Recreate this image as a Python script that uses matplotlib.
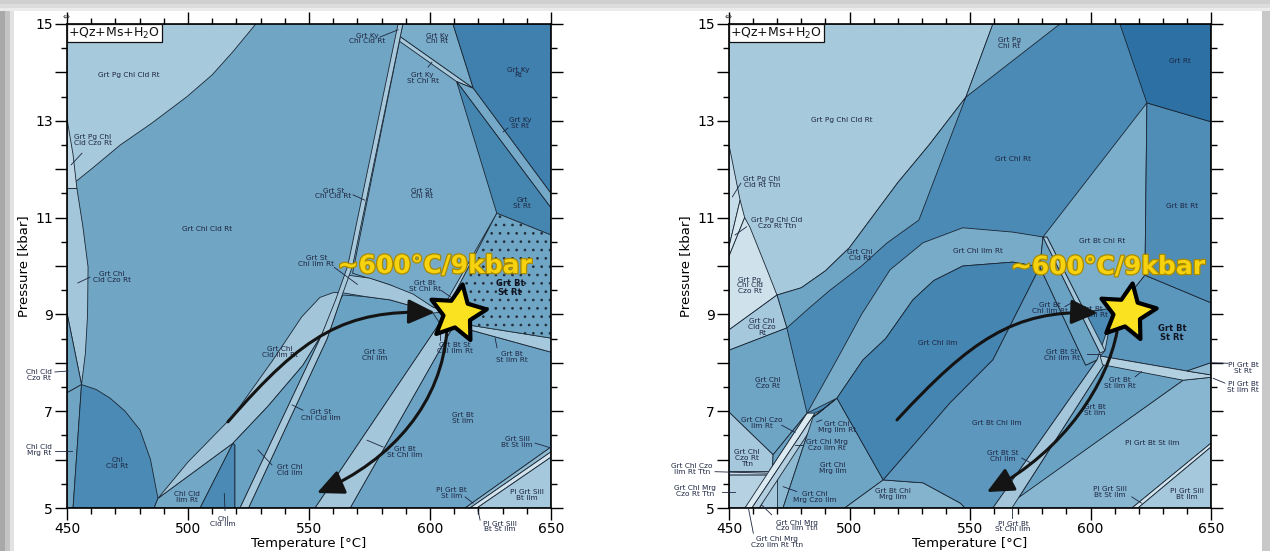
import numpy as np
import matplotlib
matplotlib.use('Agg')
import matplotlib.pyplot as plt
import matplotlib.patheffects as pe
from matplotlib.patches import Polygon, Rectangle, FancyArrowPatch
from matplotlib.path import Path

# ---------------- left section: field outlines (T [°C], P [kbar]) ----------------
L_PG = [(450, 15), (528, 15), (518.6, 14.43), (510, 13.95), (499.6, 13.5), (485, 12.95),
        (472, 12.5), (460, 12.0), (450, 11.6)]
L_CZO_TOP = [(450, 13.04), (452.5, 12.3), (454.1, 11.6), (450, 11.6)]
L_CZO = [(450, 11.6), (454.1, 11.6), (456.6, 10.8), (458.7, 9.98), (458.5, 9.0), (457.6, 8.2),
         (456, 7.55), (450, 9.03)]
L_CHL_CLD_CZO = [(450, 9.03), (456, 7.55), (450, 7.38)]
L_CHL_CLD_MRG = [(450, 7.38), (456, 7.55), (452.5, 5), (450, 5)]
L_CHL_CLD = [(456, 7.55), (462, 7.45), (467.8, 7.27), (474, 7.0), (480.2, 6.61), (484.5, 6.0),
             (486.8, 5.4), (487.6, 5.2), (486, 5.0), (452.5, 5.0)]
L_CHL_CLD_ILM_RT = [(486, 5), (487.6, 5.2), (518.6, 6.34), (505, 5)]
L_CHL_CLD_ILM = [(505, 5), (518.6, 6.34), (519.4, 6.3), (519.4, 5)]
L_ILM_RT_BAND = [(487.6, 5.2), (500, 5.95), (518.6, 6.9), (535, 8.05), (547, 8.95), (554.5, 9.35),
                 (560, 9.45), (563.5, 9.45), (555.5, 8.6), (547.5, 7.95), (533, 7.1), (518.6, 6.34)]
L_GRT_CHL_CLD_ILM = [(519.4, 5), (519.4, 6.3), (518.6, 6.34), (533, 7.1), (547.5, 7.95),
                     (555.5, 8.6), (521.5, 5)]
L_ST_CHL_RT = [(588.8, 15), (650, 15), (650, 9.0), (612, 9.05), (601.2, 9.15), (583.5, 9.61),
               (568, 9.85)]
L_KY_CHL = [(588.8, 15), (609.5, 15), (617.9, 13.67), (587.6, 14.74)]
L_KY_ST_CHL = [(587.6, 14.74), (617.9, 13.67), (611, 13.81), (587.5, 14.64)]
L_KY_RT = [(609.5, 15), (650, 15), (650, 11.5), (617.9, 13.67)]
L_KY_ST_RT = [(611, 13.81), (617.9, 13.67), (650, 11.5), (650, 11.2)]
L_ST_RT = [(611, 13.81), (650, 11.2), (650, 10.64), (627.6, 11.09)]
L_BT_ST_RT = [(627.6, 11.09), (650, 10.64), (650, 8.51), (613.6, 8.8), (609, 9.1), (609.5, 9.36)]
L_BT_ST_CHL_RT = [(627.6, 11.09), (609.5, 9.36), (606, 9.2)]
L_STRIPE = [(521.5, 5), (555, 8.55), (561, 9.3), (566, 10.0), (586.8, 15), (588.8, 15),
            (568, 10.0), (563, 9.3), (557.5, 8.5), (525, 5)]
L_ST_CHL_ILM_RT = [(563.5, 9.45), (566, 9.81), (575, 9.75), (583.5, 9.61), (593, 9.42),
                   (601.2, 9.15), (607, 9.05), (601.2, 9.03), (592, 9.18), (583.5, 9.3), (573, 9.37)]
L_GRT_ST_CHL_ILM = [(525, 5), (557.5, 8.5), (563, 9.3), (564, 9.4), (573, 9.37), (583.5, 9.3),
                    (592, 9.18), (601.2, 9.03), (604, 8.82), (552.5, 5)]
L_BT_ST_ILM = [(567, 5), (609, 8.7), (613.6, 8.72), (650, 8.22), (650, 6.26), (614.5, 5)]
L_BT_ST_CHL_ILM = [(552.5, 5), (604, 8.82), (608, 9.05), (609, 8.7), (567, 5)]
L_BT_ST_ILM_RT = [(609, 8.7), (613.6, 8.8), (650, 8.51), (650, 8.22), (613.6, 8.72)]
L_BT_ST_CHL_ILM_RT = [(607.5, 9.05), (613.6, 8.8), (609, 8.7)]
L_PL_BT_ST_ILM = [(614.5, 5), (650, 6.26), (650, 6.16), (616.5, 5)]
L_PL_SILL_ST = [(616.5, 5), (650, 6.16), (650, 6.05), (619.4, 5)]
L_PL_SILL = [(619.4, 5), (650, 6.05), (650, 5)]

L_LABELS = [
    ("Grt Pg Chl Cld Rt", 475.6, 13.95), ("Grt Pg Chl\nCld Czo Rt", 460.7, 12.6),
    ("Grt Chl Cld Rt", 507.9, 10.76), ("Grt Chl\nCld Czo Rt", 468.6, 9.77),
    ("Chl Cld\nCzo Rt", 438.4, 7.75), ("Chl Cld\nMrg Rt", 438.4, 6.2),
    ("Chl\nCld Rt", 470.7, 5.93), ("Chl Cld\nIlm Rt", 499.6, 5.23),
    ("Chl\nCld Ilm", 514.5, 4.72), ("Grt Chl\nCld Ilm Rt", 538, 8.22),
    ("Grt Chl\nCld Ilm", 542.1, 5.79), ("Grt St\nChl Cld Ilm", 555, 6.92),
    ("Grt St\nChl Ilm", 577.3, 8.16), ("Grt Bt St\nChl Ilm Rt", 610.3, 8.31),
    ("Grt Bt\nSt Ilm Rt", 633.9, 8.12), ("Grt Bt\nSt Ilm", 613.6, 6.86),
    ("Grt Bt\nSt Chl Ilm", 589.7, 6.16), ("Grt Sill\nBt St Ilm", 636, 6.36),
    ("Pl Grt Bt\nSt Ilm", 609, 5.31), ("Pl Grt Sill\nBt Ilm", 640, 5.27),
    ("Pl Grt Sill\nBt St Ilm", 629, 4.62), ("Grt Ky\nChl Cld Rt", 574, 14.7),
    ("Grt Ky\nChl Rt", 602.9, 14.7), ("Grt Ky\nSt Chl Rt", 597, 13.88),
    ("Grt Ky\nRt", 636.4, 14.0), ("Grt Ky\nSt Rt", 637.2, 12.95),
    ("Grt\nSt Rt", 638, 11.3), ("Grt St\nChl Cld Rt", 560, 11.5),
    ("Grt St\nChl Rt", 596.7, 11.5), ("Grt St\nChl Ilm Rt", 553, 10.1),
    ("Grt Bt\nSt Chl Rt", 598, 9.58),
]
L_BOLD = [("Grt Bt\nSt Rt", 633, 9.55)]
L_LEADERS = [
    ((456.2, 12.33), (451.7, 12.09)), ((459.5, 9.77), (454.5, 9.65)),
    ((445.0, 7.81), (450.4, 7.83)), ((445.0, 6.18), (452.1, 6.18)),
    ((515.3, 4.95), (515.0, 5.3)), ((528.9, 6.20), (534.7, 5.89)),
    ((543.0, 7.13), (547.5, 7.02)), ((604.1, 8.47), (604.1, 8.64)),
    ((626.9, 8.51), (627.7, 8.31)), ((574.0, 6.40), (580.6, 6.26)),
    ((643.4, 6.34), (650, 6.24)), ((614.5, 5.23), (617.8, 5.10)),
    ((619.8, 4.96), (620.7, 4.75)), ((579.3, 14.73), (586.8, 14.88)),
    ((599.2, 14.11), (600.8, 14.21)), ((632.2, 12.85), (630.2, 12.77)),
    ((568.2, 11.47), (573.1, 11.36)), ((560.5, 9.97), (570.0, 9.62)),
    ((604.5, 9.5), (608.5, 9.36)),
]
L_STAR = (611, 9.02)
L_PROGRADE = [(516.5, 6.78), (548, 8.6), (565, 9.1), (602, 9.04)]
L_RETRO = [(607, 8.68), (605, 7.2), (585, 6.0), (553.3, 5.31)]
L_NOTE = (602, 10.0)

# ---------------- right section ----------------
R_PG = [(450, 15), (559.5, 15), (548.3, 13.49), (533, 12.5), (520, 11.72), (510, 11.05),
        (500, 10.38), (490, 9.9), (480, 9.55), (469.9, 9.4), (450, 8.68)]
R_CLD_RT = [(469.9, 9.4), (480, 9.55), (490, 9.9), (500, 10.38), (510, 11.05), (520, 11.72),
            (533, 12.5), (548.3, 13.49), (528.8, 10.95), (515.4, 10.47), (505, 10.0),
            (491.9, 9.5), (483, 9.12), (474, 8.72)]
R_PG_TTN = [(450, 12.5), (454.6, 11.36), (450, 10.4)]
R_PG_CZO_TTN = [(450, 10.4), (454.6, 11.36), (456.5, 11.0), (450, 10.2)]
R_PG_CZO = [(450, 10.2), (456.5, 11.0), (458.7, 10.8), (465.8, 9.92), (469.9, 9.4), (450, 8.68)]
R_CLD_CZO = [(450, 8.68), (469.9, 9.4), (474, 8.72), (450, 8.26)]
R_CHL_CZO = [(450, 8.26), (474, 8.72), (482.4, 6.96), (468.3, 6.1), (450, 6.98)]
R_CZO_TTN = [(450, 6.98), (468.3, 6.1), (468, 5.75), (450, 5.75)]
R_CZO_ILM_TTN = [(450, 5.75), (468, 5.75), (467.5, 5.68), (450, 5.68)]
R_MRG_CZO_TTN = [(450, 5.68), (467.5, 5.68), (456.6, 5), (450, 5)]
R_CZO_ILM_RT = [(468.3, 6.1), (482.4, 6.96), (466.5, 5.75), (468, 5.75)]
R_BAND1 = [(456.6, 5), (459.5, 5), (485.7, 6.96), (482.4, 6.96)]
R_BAND2 = [(459.5, 5), (462.5, 5), (489.5, 7.05), (485.7, 6.96)]
R_MRG_CZO_ILM = [(462.5, 5), (472.4, 5), (484.9, 6.88), (487, 6.95)]
R_MRG_CZO_ILM_TTN = [(462.5, 5), (469.9, 5), (469.9, 5.75)]
R_MRG_ILM = [(472.4, 5), (498, 5), (514, 5.58), (494.8, 7.27), (484.9, 6.88)]
R_MRG_ILM_RT = [(487, 6.95), (494.8, 7.27), (484.9, 6.88)]
R_ILM_RT_BAND = [(482.4, 6.96), (494.7, 8.06), (505, 9.0), (516.8, 9.92), (530.5, 10.48), (547, 10.79),
                 (567.8, 10.7), (580.3, 10.6), (579, 9.98), (567.8, 10.08), (547, 10.0), (535, 9.7),
                 (526.3, 9.3), (515, 8.5), (505.6, 8.06), (494.8, 7.27)]
R_CHL_ILM = [(494.8, 7.27), (505.6, 8.06), (515, 8.5), (526.3, 9.3), (535, 9.7), (547, 10.0),
             (567.8, 10.08), (579, 9.98), (559.5, 8.06), (541.7, 7.17), (514, 5.58)]
R_BT_CHL_MRG_ILM = [(498, 5), (514, 5.58), (530.5, 5.52), (546, 5.1), (548, 5)]
R_PL_BT_ST_ILM = [(563.7, 5), (638.4, 7.64), (650, 7.7), (650, 6.34), (617.2, 5)]
R_BT_ST_ILM = [(570.3, 5.22), (606.8, 8.06), (638.4, 7.64)]
R_BT_CHL_ILM = [(514, 5.58), (530.5, 5.52), (546, 5.1), (548, 5), (559.5, 5), (602.7, 8.06),
                (598, 7.95), (579, 9.98), (559.5, 8.06), (541.7, 7.17)]
R_BT_CHL_ILM_RT = [(579, 9.98), (580.3, 10.6), (595.6, 9.05), (604, 8.2), (602.7, 8.06), (598, 7.95)]
R_BT_ST_CHL_ILM = [(559.5, 5), (602.7, 8.06), (608.5, 8.9), (611.5, 8.75), (606.8, 8.06), (567.4, 5)]
R_DOUBLE = [(580.3, 10.6), (582, 10.6), (606, 8.25), (604, 8.2)]
R_BT_CHL_RT = [(580.3, 10.6), (623.4, 13.37), (622.6, 9.81), (612, 9.15), (597.8, 9.05), (582, 10.6)]
R_BT_ST_RT = [(612, 9.15), (622.6, 9.81), (650, 9.24), (650, 8.0), (640, 7.83), (604, 8.14),
              (606, 8.25), (608.5, 8.9)]
R_BT_ST_ILM_RT = [(604, 8.14), (640, 7.83), (650, 7.75), (650, 7.7), (638.4, 7.64), (605, 7.96)]
R_PL_BT_ST_RT = [(640, 7.83), (650, 8.0), (650, 7.75)]
R_BT_RT = [(623.4, 13.37), (650, 12.98), (650, 9.24), (622.6, 9.81)]
R_GRT_RT = [(612.2, 15), (650, 15), (650, 12.98), (623.4, 13.37)]
R_PG_CHL_RT = [(548.3, 13.49), (559.5, 15), (587.3, 15)]
R_PL_SILL_ST = [(617.2, 5), (650, 6.34), (650, 6.26), (619.7, 5)]
R_PL_SILL = [(619.7, 5), (650, 6.26), (650, 5)]

R_LABELS = [
    ("Grt Pg Chl Cld Rt", 496.9, 13.02), ("Grt Pg Chl\nCld Rt Ttn", 463.7, 11.74),
    ("Grt Pg Chl Cld\nCzo Rt Ttn", 469.9, 10.89), ("Grt Pg\nChl Cld\nCzo Rt", 458.7, 9.6),
    ("Grt Chl\nCld Czo\nRt", 463.7, 8.74), ("Grt Chl\nCld Rt", 504.4, 10.23),
    ("Grt Chl Rt", 567.8, 12.21), ("Grt Pg\nChl Rt", 566.2, 14.6),
    ("Grt Rt", 637.1, 14.24), ("Grt Bt Rt", 638, 11.24),
    ("Grt Bt Chl Rt", 604.8, 10.52), ("Grt Chl Ilm Rt", 553.3, 10.31),
    ("Grt Chl Ilm", 536.7, 8.41), ("Grt Bt\nChl Ilm Rt", 583.2, 9.13),
    ("Grt Bt\nSt Chl Rt", 600.6, 9.05), ("Grt Bt St\nChl Ilm Rt", 588.2, 8.16),
    ("Grt Bt\nSt Ilm Rt", 612.2, 7.58), ("Grt Bt\nSt Ilm", 601.9, 7.03),
    ("Grt Bt Chl Ilm", 561.2, 6.76), ("Grt Bt St\nChl Ilm", 563.7, 6.07),
    ("Pl Grt Bt St Ilm", 625.5, 6.34), ("Pl Grt Sill\nBt St Ilm", 608.1, 5.33),
    ("Pl Grt Sill\nBt Ilm", 640, 5.29), ("Pl Grt Bt\nSt Chl Ilm", 567.8, 4.62),
    ("Pl Grt Bt\nSt Rt", 663.3, 7.9), ("Pl Grt Bt\nSt Ilm Rt", 663.3, 7.5),
    ("Grt Chl\nCzo Rt", 466.2, 7.58), ("Grt Chl Czo\nIlm Rt", 463.7, 6.76),
    ("Grt Chl\nCzo Rt\nTtn", 457.5, 6.03), ("Grt Chl Czo\nIlm Rt Ttn", 434.6, 5.81),
    ("Grt Chl Mrg\nCzo Rt Ttn", 435.9, 5.35), ("Grt Chl\nMrg Ilm Rt", 494.8, 6.67),
    ("Grt Chl Mrg\nCzo Ilm Rt", 490.7, 6.3), ("Grt Chl\nMrg Ilm", 493.2, 5.83),
    ("Grt Chl\nMrg Czo Ilm", 485.7, 5.23), ("Grt Bt Chl\nMrg Ilm", 518.0, 5.29),
    ("Grt Chl Mrg\nCzo Ilm Ttn", 478.2, 4.64), ("Grt Chl Mrg\nCzo Ilm Rt Ttn", 469.9, 4.3),
]
R_BOLD = [("Grt Bt\nSt Rt", 633.8, 8.62)]
R_LEADERS = [
    ((454.9, 11.71), (451.4, 11.43)), ((457.3, 10.81), (452.5, 10.64)),
    ((589.4, 9.16), (592.9, 9.26)), ((598.4, 8.18), (603.9, 8.18)),
    ((618.5, 7.71), (621.2, 7.82)), ((571.5, 6.03), (574.9, 5.94)),
    ((617.1, 5.23), (621.2, 5.10)), ((567.3, 4.99), (567.3, 4.79)),
    ((650, 8.0), (657.0, 7.99)), ((650.9, 7.68), (655.8, 7.58)),
    ((471.9, 6.71), (477.4, 6.56)), ((444.2, 5.75), (465.6, 5.72)),
    ((447.0, 5.34), (452.5, 5.34)), ((486.4, 6.78), (488.5, 6.82)),
    ((480.8, 6.30), (477.4, 6.30)), ((478.1, 5.34), (472.5, 5.44)),
    ((463.6, 5.06), (467.7, 4.86)), ((458.0, 5.01), (460.1, 4.48)),
]
R_STAR = (615, 9.04)
R_PROGRADE = [(519.7, 6.82), (550, 8.45), (568, 9.1), (603, 9.03)]
R_RETRO = [(611, 8.64), (607, 7.6), (590, 6.2), (557, 5.33)]
R_NOTE = (607.3, 9.98)

EDGE = '#1a2633'
TXT = '#1d2540'

LEFT_FIELDS = [
    (L_PG, '#a7c9dc'), (L_CZO_TOP, '#bdd7e5'), (L_CZO, '#a3c6da'), (L_CHL_CLD_CZO, '#6ba1c1'),
    (L_CHL_CLD_MRG, '#6fa4c3'), (L_CHL_CLD, '#4a8ab4'), (L_CHL_CLD_ILM_RT, '#72a7c6'),
    (L_CHL_CLD_ILM, '#4a8ab4'), (L_ILM_RT_BAND, '#a2c5da'), (L_GRT_CHL_CLD_ILM, '#6aa2c3'),
    (L_ST_CHL_RT, '#76aac8'), (L_KY_CHL, '#7aadca'), (L_KY_ST_CHL, '#a9cadd'),
    (L_KY_RT, '#3f80ae'), (L_KY_ST_RT, '#75a9c7'), (L_ST_RT, '#4586b1'),
    (L_BT_ST_CHL_RT, '#a3c6da'), (L_GRT_ST_CHL_ILM, '#6aa2c3'), (L_ST_CHL_ILM_RT, '#a3c6da'),
    (L_STRIPE, '#a8c9dc'), (L_BT_ST_ILM, '#6ca3c4'), (L_BT_ST_CHL_ILM, '#a3c6da'),
    (L_BT_ST_ILM_RT, '#a6c8dc'), (L_BT_ST_CHL_ILM_RT, '#7aadca'), (L_PL_BT_ST_ILM, '#8fbad2'),
    (L_PL_SILL_ST, '#d3e4ee'), (L_PL_SILL, '#a6c8dc'),
]
RIGHT_FIELDS = [
    (R_PG, '#a7c9dc'), (R_CLD_RT, '#6ea4c4'), (R_PG_TTN, '#c6dde9'), (R_PG_CZO_TTN, '#d8e8f0'),
    (R_PG_CZO, '#cfe2ec'), (R_CLD_CZO, '#a6c8dc'), (R_CHL_CZO, '#6ea4c4'), (R_CZO_TTN, '#a6c8dc'),
    (R_CZO_ILM_TTN, '#c8dde9'), (R_MRG_CZO_TTN, '#b5d1e2'), (R_CZO_ILM_RT, '#6aa2c3'),
    (R_MRG_CZO_ILM, '#8dbad2'), (R_MRG_CZO_ILM_TTN, '#a6c8dc'), (R_BAND1, '#dbe9f1'),
    (R_BAND2, '#b3cfe0'), (R_MRG_ILM, '#6fa5c4'), (R_MRG_ILM_RT, '#a3c6da'),
    (R_ILM_RT_BAND, '#78abc8'), (R_CHL_ILM, '#4585b1'), (R_BT_CHL_MRG_ILM, '#84b3ce'),
    (R_PL_BT_ST_ILM, '#88b6d0'), (R_BT_ST_ILM, '#6aa2c3'), (R_BT_CHL_ILM, '#5d97be'),
    (R_BT_CHL_ILM_RT, '#6aa2c3'), (R_BT_ST_CHL_ILM, '#a3c6da'), (R_DOUBLE, '#a3c6da'),
    (R_BT_CHL_RT, '#7aaecb'), (R_BT_ST_RT, '#5b96bd'), (R_BT_ST_ILM_RT, '#b3d0e1'),
    (R_PL_BT_ST_RT, '#8fbad2'), (R_BT_RT, '#4f8db7'), (R_GRT_RT, '#2d70a4'),
    (R_PG_CHL_RT, '#78abc8'), (R_PL_SILL_ST, '#d3e4ee'), (R_PL_SILL, '#a6c8dc'),
]

plt.rcParams['font.family'] = ['DejaVu Sans']
plt.rcParams['hatch.linewidth'] = 0.7

# star shape with fat arms, slightly tilted
ang = np.deg2rad(80 + np.arange(10) * 36)
rad = np.where(np.arange(10) % 2 == 0, 1.0, 0.48)
STAR = Path(np.column_stack([rad * np.cos(ang), rad * np.sin(ang)]).tolist() + [[rad[0] * np.cos(ang[0]), rad[0] * np.sin(ang[0])]], closed=True)


def draw_panel(ax, base, fields, labels, bold, leaders, star, pro, retro, note, dotted=None):
    ax.set_facecolor(base)
    for pts, col in fields:
        ax.add_patch(Polygon(pts, closed=True, fc=col, ec=EDGE, lw=0.6, zorder=1))
    if dotted is not None:
        ax.add_patch(Polygon(dotted, closed=True, fc='#6fa5c5', ec='#22303c', lw=0.6,
                             hatch='..', zorder=1.5))
    for txt, t, p in labels:
        ax.text(t, p, txt, ha='center', va='center', fontsize=5.3, color=TXT,
                linespacing=0.95, clip_on=False, zorder=6)
    for txt, t, p in bold:
        ax.text(t, p, txt, ha='center', va='center', fontsize=6, color='#111522',
                fontweight='bold', linespacing=0.95, zorder=6)
    for (t0, p0), (t1, p1) in leaders:
        ax.plot([t0, t1], [p0, p1], color=TXT, lw=0.6, clip_on=False, zorder=6)

    codes = [Path.MOVETO, Path.CURVE4, Path.CURVE4, Path.CURVE4]
    for pts in (pro, retro):
        ax.add_patch(FancyArrowPatch(path=Path(pts, codes),
                                     arrowstyle='-|>,head_length=0.9,head_width=0.42',
                                     mutation_scale=18, lw=2.2, color='#141414',
                                     shrinkA=0, shrinkB=0, zorder=8))
    ax.plot([star[0]], [star[1]], marker=STAR, ms=42, mfc='#fbe220', mec='black', mew=3,
            zorder=10, clip_on=False)
    ax.text(note[0], note[1], '~600°C/9kbar', ha='center', va='center', fontsize=18,
            fontweight='bold', color='#f6d20f', zorder=11,
            path_effects=[pe.withStroke(linewidth=1.8, foreground='#a88a00')])

    ax.text(450.6, 14.97, '+Qz+Ms+H$_2$O', ha='left', va='top', fontsize=9, color='#111111',
            zorder=12, bbox=dict(boxstyle='square,pad=0.15', fc='white', ec='#111111', lw=0.9))
    ax.text(449.5, 15.17, '⇔', ha='center', va='center', fontsize=6, color='#333333',
            clip_on=False)

    ax.set_xlim(450, 650)
    ax.set_ylim(5, 15)
    ax.set_xticks([450, 500, 550, 600, 650])
    ax.set_xticks(np.arange(450, 651, 10), minor=True)
    ax.set_yticks(range(5, 16))
    ax.set_yticklabels([str(v) if v % 2 == 1 else '' for v in range(5, 16)])
    ax.set_yticks(np.arange(5, 15.01, 0.5), minor=True)
    ax.tick_params(which='major', direction='out', length=8.5, width=1.0, top=True, right=True,
                   labelsize=10, pad=1.5)
    ax.tick_params(which='minor', direction='out', length=4, width=1.0, top=True, right=True)
    for s in ax.spines.values():
        s.set_linewidth(1.2)
    ax.set_xlabel('Temperature [°C]', fontsize=9.5, labelpad=1)
    ax.set_ylabel('Pressure [kbar]', fontsize=9.5, labelpad=4)


fig = plt.figure(figsize=(12.7, 5.51), dpi=100)
fig.patch.set_facecolor('white')
# page shadow frame
for x0, w, c in [(0, 5, '#a9a9a9'), (5, 5, '#c4c4c4'), (10, 4, '#e2e2e2'), (1262, 8, '#c8c8c8')]:
    fig.patches.append(Rectangle((x0 / 1270, 0), w / 1270, 1, transform=fig.transFigure,
                                 fc=c, ec='none', zorder=-5))
for y0, h, c in [(0, 4, '#cfcfcf'), (4, 4, '#dcdcdc'), (8, 3, '#ebebeb')]:
    fig.patches.append(Rectangle((0, 1 - (y0 + h) / 551), 1, h / 551, transform=fig.transFigure,
                                 fc=c, ec='none', zorder=-5))

axL = fig.add_axes([67 / 1270, 43 / 551, 484 / 1270, 484 / 551])
axR = fig.add_axes([729 / 1270, 43 / 551, 482 / 1270, 484 / 551])

draw_panel(axL, '#70a5c4', LEFT_FIELDS, L_LABELS, L_BOLD, L_LEADERS, L_STAR,
           L_PROGRADE, L_RETRO, L_NOTE, dotted=L_BT_ST_RT)
draw_panel(axR, '#4a8ab5', RIGHT_FIELDS, R_LABELS, R_BOLD, R_LEADERS, R_STAR,
           R_PROGRADE, R_RETRO, R_NOTE)

fig.savefig('out.png', dpi=100)
